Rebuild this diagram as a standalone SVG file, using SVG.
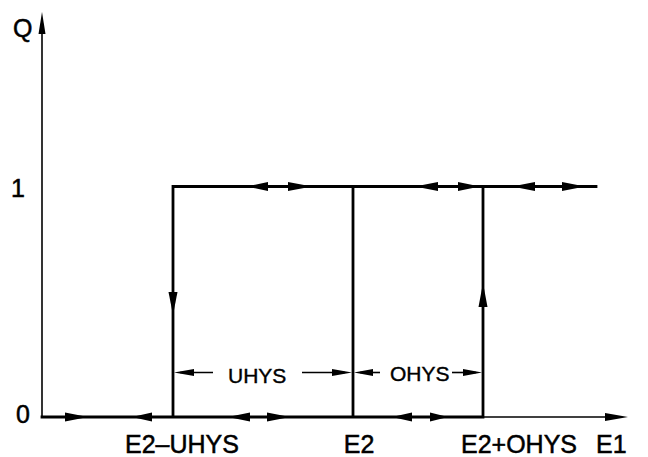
<svg xmlns="http://www.w3.org/2000/svg" width="648" height="457" viewBox="0 0 648 457">
<style>
.thin{stroke:#000;stroke-width:1.6;fill:none}
.thick{stroke:#000;stroke-width:2.8;fill:none;stroke-linecap:square}
.ah{fill:#000;stroke:none}
.lbl{font-family:"Liberation Sans",Arial,sans-serif;font-size:25px;fill:#000;stroke:#000;stroke-width:0.5}
.dim{font-family:"Liberation Sans",Arial,sans-serif;font-size:21px;fill:#000;stroke:#000;stroke-width:0.4}
</style>
<rect width="648" height="457" fill="#fff"/>
<g id="axes">
<line class="thin" x1="42" y1="417" x2="42" y2="30"/>
<polygon class="ah" points="42,12 38.5,34 45.5,34"/>
<line class="thin" x1="42" y1="417" x2="610" y2="417"/>
<polygon class="ah" points="628,417 605,413 605,421"/>
</g>
<g id="connectors">
<path class="thick" d="M42,417 H483 V186.5 M173,417 V186.5 H596 M353,186.5 V417"/>
<g id="arrowheads">
<polygon class="ah" points="247,186.5 268,182 268,191"/>
<polygon class="ah" points="312,186.5 288,182 288,191"/>
<polygon class="ah" points="415,186.5 438,182 438,191"/>
<polygon class="ah" points="480,186.5 458,182 458,191"/>
<polygon class="ah" points="512,186.5 535,182 535,191"/>
<polygon class="ah" points="585,186.5 562,182 562,191"/>
<polygon class="ah" points="88,417 65,412.5 65,421.5"/>
<polygon class="ah" points="132,417 152,412.5 152,421.5"/>
<polygon class="ah" points="228,417 250,412.5 250,421.5"/>
<polygon class="ah" points="290,417 267,412.5 267,421.5"/>
<polygon class="ah" points="392,417 412,412.5 412,421.5"/>
<polygon class="ah" points="448,417 430,412.5 430,421.5"/>
<polygon class="ah" points="173,315 168.5,292 177.5,292"/>
<polygon class="ah" points="483,283 478.5,307 487.5,307"/>
</g>
</g>
<g id="dimension-uhys">
<line class="thin" x1="180" y1="372.5" x2="213" y2="372.5"/>
<polygon class="ah" points="174,372.5 194,369 194,376"/>
<line class="thin" x1="302" y1="372.5" x2="345" y2="372.5"/>
<polygon class="ah" points="352,372.5 332,369 332,376"/>
<text class="dim" x="228" y="383">UHYS</text>
</g>
<g id="dimension-ohys">
<line class="thin" x1="360" y1="372.5" x2="380" y2="372.5"/>
<polygon class="ah" points="354,372.5 373,369 373,376"/>
<line class="thin" x1="452" y1="372.5" x2="476" y2="372.5"/>
<polygon class="ah" points="482,372.5 463,369 463,376"/>
<text class="dim" x="390" y="381">OHYS</text>
</g>
<g id="labels">
<text class="lbl" x="13" y="37">Q</text>
<text class="lbl" x="11" y="197">1</text>
<text class="lbl" x="16" y="423">0</text>
<text class="lbl" x="182" y="453" text-anchor="middle">E2–UHYS</text>
<text class="lbl" x="359" y="453" text-anchor="middle">E2</text>
<text class="lbl" x="519" y="453" text-anchor="middle">E2+OHYS</text>
<text class="lbl" x="596" y="453">E1</text>
</g>
</svg>
